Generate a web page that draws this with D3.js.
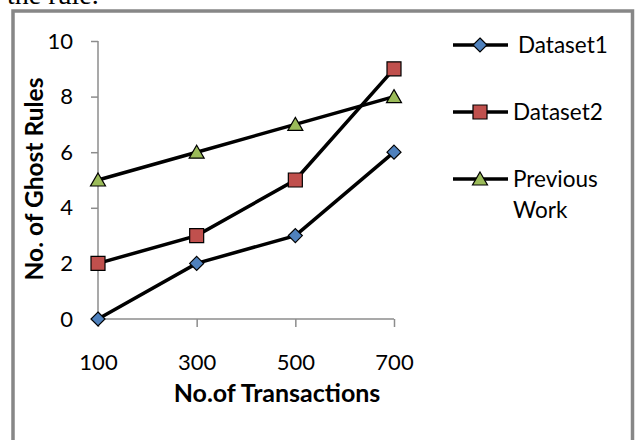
<!DOCTYPE html>
<html><head><meta charset="utf-8">
<script src="https://cdn.jsdelivr.net/npm/d3@7"></script>
<style>
html,body{margin:0;padding:0;background:#fff;overflow:hidden}
svg{display:block}
</style></head>
<body>
<script>
const categories = ["100", "300", "500", "700"];
const dataset1 = [0, 2, 3, 6];
const dataset2 = [2, 3, 5, 9];
const previousWork = [5, 6, 7, 8];
const seriesNames = ["Dataset1", "Dataset2", "Previous Work"];
const yTicks = [0, 2, 4, 6, 8, 10];

const W = 635, H = 440;
const FONT = "Lato, 'Open Sans', sans-serif";
const svg = d3.select("body").append("svg").attr("width", W).attr("height", H);

// cut-off caption text above the chart
svg.append("text").attr("x", 7).attr("y", 4)
  .attr("font-family", "'Liberation Serif', serif").attr("font-size", 28)
  .attr("fill", "#000").text("the rule.");

// chart border
svg.append("rect").attr("x", 13).attr("y", 11).attr("width", 619.5).attr("height", 450)
  .attr("fill", "none").attr("stroke", "#878787").attr("stroke-width", 3.5);

const x = d3.scalePoint().domain(categories).range([98, 394]);
const y = d3.scaleLinear().domain([0, 10]).range([319, 41]);

const axisColor = "#8c8c8c";
const gy = svg.append("g").attr("transform", "translate(98,0)")
  .call(d3.axisLeft(y).tickValues(yTicks).tickSize(7).tickPadding(18).tickFormat(d3.format("d")));
const gx = svg.append("g").attr("transform", "translate(0,319)")
  .call(d3.axisBottom(x).tickSize(8).tickPadding(30));
[gx, gy].forEach(g => {
  g.select(".domain").attr("stroke", axisColor).attr("stroke-width", 1.5);
  g.selectAll(".tick line").attr("stroke", axisColor).attr("stroke-width", 1.5);
  g.selectAll("text").attr("font-family", FONT).attr("font-size", 22).attr("fill", "#000");
});
gx.selectAll(".tick text").attr("dy", "0em").attr("y", 51);
gx.select(".domain").attr("d", "M98,0H394");
gy.select(".domain").attr("d", "M0,41V319");

// axis titles
svg.append("text").attr("x", 277).attr("y", 402).attr("text-anchor", "middle")
  .attr("font-family", FONT).attr("font-weight", "bold").attr("font-size", 25)
  .text("No.of Transactions");
svg.append("text").attr("transform", "translate(43,179) rotate(-90)").attr("text-anchor", "middle")
  .attr("font-family", FONT).attr("font-weight", "bold").attr("font-size", 24.5)
  .text("No. of Ghost Rules");

const series = [
  { name: seriesNames[0], values: dataset1, color: "#4f81bd", shape: "diamond" },
  { name: seriesNames[1], values: dataset2, color: "#c0504d", shape: "square" },
  { name: seriesNames[2], values: previousWork, color: "#9bbb59", shape: "triangle" }
];

function markerPath(shape) {
  if (shape === "diamond") return "M0,-7L7,0L0,7L-7,0Z";
  if (shape === "square") return "M-7,-7H7V7H-7Z";
  return "M0,-7L7.5,6H-7.5Z";
}

const line = d3.line().x((d, i) => x(categories[i])).y(d => y(d));
series.forEach(s => {
  const g = svg.append("g");
  g.append("path").attr("d", line(s.values)).attr("fill", "none")
    .attr("stroke", "#000").attr("stroke-width", 3.5);
  g.selectAll("path.m").data(s.values).join("path").attr("class", "m")
    .attr("transform", (d, i) => `translate(${x(categories[i])},${y(d)})`)
    .attr("d", markerPath(s.shape)).attr("fill", s.color)
    .attr("stroke", "#000").attr("stroke-width", 1.2);
});

// legend
const legendY = [45, 112, 179];
const legendTextX = [518, 513, 513];
series.forEach((s, i) => {
  const g = svg.append("g").attr("transform", `translate(0,${legendY[i]})`);
  g.append("line").attr("x1", 453).attr("x2", 508).attr("stroke", "#000").attr("stroke-width", 3.5);
  g.append("path").attr("transform", "translate(480,0)").attr("d", markerPath(s.shape))
    .attr("fill", s.color).attr("stroke", "#000").attr("stroke-width", 1.2);
  const words = s.name === "Previous Work" ? ["Previous", "Work"] : [s.name];
  words.forEach((w, j) => {
    g.append("text").attr("x", legendTextX[i]).attr("y", j * 31).attr("dy", "0.35em")
      .attr("font-family", FONT).attr("font-size", 22.5).text(w);
  });
});
</script>
</body></html>
